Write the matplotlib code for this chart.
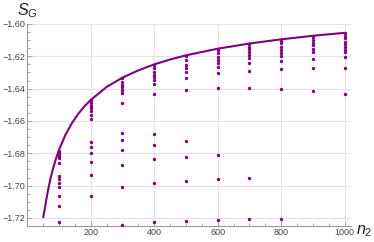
import matplotlib.pyplot as plt
from matplotlib.ticker import MultipleLocator

plt.rcParams["font.family"] = ["Liberation Sans", "DejaVu Sans"]
plt.rcParams["mathtext.fontset"] = "custom"
plt.rcParams["mathtext.it"] = "Liberation Sans:italic"
plt.rcParams["mathtext.rm"] = "Liberation Sans"

# Scattered values, one list per n_2 column
n2_values = [100, 200, 300, 400, 500, 600, 700, 800, 900, 1000]
sg_columns = [
    [-1.6786, -1.6797, -1.6807, -1.6815, -1.6823, -1.6832, -1.6860, -1.6943,
     -1.6962, -1.6985, -1.7009, -1.7063, -1.7127, -1.7226],
    [-1.6470, -1.6490, -1.6508, -1.6522, -1.6539, -1.6563, -1.6590, -1.6729,
     -1.6760, -1.6800, -1.6856, -1.6937, -1.7063],
    [-1.6336, -1.6357, -1.6378, -1.6392, -1.6409, -1.6429, -1.6487, -1.6673,
     -1.6720, -1.6782, -1.6873, -1.7009, -1.7244],
    [-1.6254, -1.6274, -1.6295, -1.6316, -1.6330, -1.6347, -1.6371, -1.6435,
     -1.6678, -1.6748, -1.6838, -1.6983, -1.7226],
    [-1.6198, -1.6223, -1.6254, -1.6274, -1.6295, -1.6332, -1.6409, -1.6724,
     -1.6823, -1.6970, -1.7217],
    [-1.6161, -1.6182, -1.6202, -1.6223, -1.6239, -1.6264, -1.6305, -1.6398,
     -1.6811, -1.6962, -1.7211],
    [-1.6124, -1.6140, -1.6157, -1.6175, -1.6192, -1.6212, -1.6243, -1.6289,
     -1.6396, -1.6955, -1.7208],
    [-1.6103, -1.6119, -1.6140, -1.6161, -1.6178, -1.6198, -1.6227, -1.6279,
     -1.6402, -1.7205],
    [-1.6080, -1.6099, -1.6116, -1.6132, -1.6153, -1.6171, -1.6215, -1.6274,
     -1.6415],
    [-1.6058, -1.6074, -1.6089, -1.6110, -1.6124, -1.6140, -1.6161, -1.6175,
     -1.6206, -1.6274, -1.6435],
]

curve_n = [50, 55, 60, 65, 70, 75, 80, 90, 100, 120, 140, 160, 180, 200,
           250, 300, 350, 400, 450, 500, 600, 700, 800, 900, 1000]
curve_sg = [-1.7200, -1.7149, -1.7088, -1.7035, -1.6987, -1.6944, -1.6905,
            -1.6837, -1.6780, -1.6688, -1.6616, -1.6558, -1.6510, -1.6470,
            -1.6390, -1.6332, -1.6287, -1.6250, -1.6220, -1.6194, -1.6153,
            -1.6121, -1.6095, -1.6073, -1.6055]

x_ticks = [200, 400, 600, 800, 1000]
y_ticks = [-1.60, -1.62, -1.64, -1.66, -1.68, -1.70, -1.72]

PURPLE = "#800080"
AXIS_GRAY = "#9a9a9a"
TEXT_GRAY = "#444444"

fig = plt.figure(figsize=(3.74, 2.42), dpi=100)
ax = fig.add_axes([0.0727, 0.066, 0.866, 0.835])

ax.plot(curve_n, curve_sg, color=PURPLE, lw=1.5, solid_capstyle="butt", zorder=3)
for n, col in zip(n2_values, sg_columns):
    ax.scatter([n] * len(col), col, s=6, color=PURPLE, lw=0, zorder=4)

ax.set_xlim(0, 1020)
ax.set_ylim(-1.725, -1.60)

ax.xaxis.set_minor_locator(MultipleLocator(50))
ax.yaxis.set_minor_locator(MultipleLocator(0.005))
ax.set_xticks(x_ticks)
ax.set_xticklabels([str(t) for t in x_ticks])
ax.set_yticks(y_ticks)
ax.set_yticklabels([f"{t:.2f}".replace("-", "\u2212") for t in y_ticks])

ax.grid(True, which="major", color="#e3e3e3", lw=0.8, zorder=0)
ax.set_axisbelow(True)

for side in ["top", "right"]:
    ax.spines[side].set_visible(False)
for side in ["left", "bottom"]:
    ax.spines[side].set_color(AXIS_GRAY)
    ax.spines[side].set_linewidth(0.8)

ax.tick_params(which="both", direction="in", color=AXIS_GRAY, width=0.6,
               labelsize=6.5, labelcolor=TEXT_GRAY, pad=1.5)
ax.tick_params(which="major", length=3.5)
ax.tick_params(which="minor", length=2)

fig.text(0.045, 0.955, r"$S_G$", fontsize=11.5, color="#222222", va="center")
fig.text(0.952, 0.045, r"$n_2$", fontsize=11.5, color="#222222", va="center")

fig.savefig("out.png", dpi=100)
